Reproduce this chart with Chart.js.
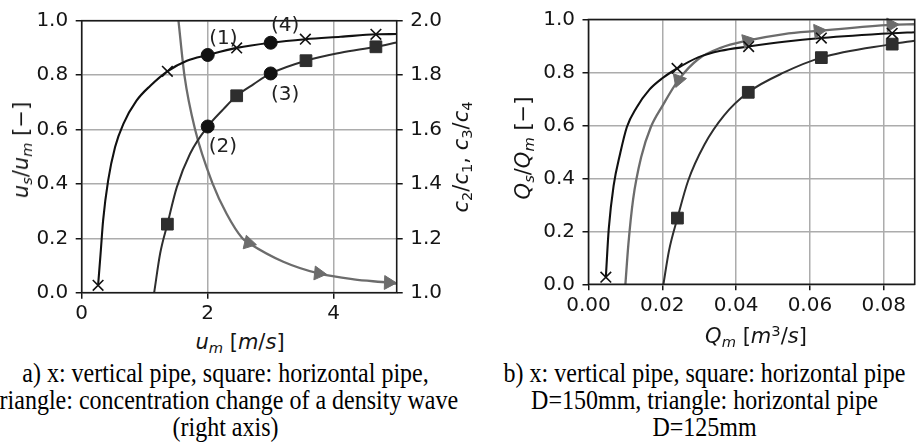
<!DOCTYPE html>
<html><head><meta charset="utf-8">
<script src="https://cdn.jsdelivr.net/npm/chart.js@4.4.0/dist/chart.umd.min.js"></script>
<style>
html,body{margin:0;padding:0;background:#fff;}
body{width:924px;height:442px;overflow:hidden;position:relative;}
canvas{position:absolute;top:0;}
#c1{left:0;}
#c2{left:460px;}
.t{position:absolute;font-family:"DejaVu Sans";font-size:21px;color:#151515;white-space:nowrap;line-height:24px;transform:translate(-50%,-50%);}
.r{transform:translate(-50%,-50%) rotate(-90deg);}
.t i{font-style:italic;}
.t sub{font-size:0.7em;vertical-align:-0.3em;line-height:0;}
.t sup{font-size:0.7em;vertical-align:0.45em;line-height:0;}
.cap{position:absolute;top:360px;font-family:"Liberation Serif";font-size:24px;line-height:24.1px;color:#000;white-space:nowrap;text-align:center;transform-origin:50% 0;transform:translateX(-50%) scaleY(1.12);}
</style>
</head><body>
<canvas id="c1" width="460" height="330"></canvas>
<canvas id="c2" width="464" height="330"></canvas>

<div class="t r" style="left:20.5px;top:150px;"><i>u</i><sub><i>s</i></sub>/<i>u</i><sub><i>m</i></sub> [−]</div>
<div class="t r" style="left:460.5px;top:157px;"><i>c</i><sub>2</sub>/<i>c</i><sub>1</sub>, <i>c</i><sub>3</sub>/<i>c</i><sub>4</sub></div>
<div class="t r" style="left:522.5px;top:148px;"><i>Q</i><sub><i>s</i></sub>/<i>Q</i><sub><i>m</i></sub> [−]</div>
<div class="t" style="left:240px;top:342px;"><i>u</i><sub><i>m</i></sub> [<i>m</i>/<i>s</i>]</div>
<div class="t" style="left:756px;top:336px;"><i>Q</i><sub><i>m</i></sub> [<i>m</i><sup>3</sup>/<i>s</i>]</div>

<div class="cap" style="left:225.5px;">a) x: vertical pipe, square: horizontal pipe,<br>triangle: concentration change of a density wave<br>(right axis)</div>
<div class="cap" style="left:704.5px;">b) x: vertical pipe, square: horizontal pipe<br>D=150mm, triangle: horizontal pipe<br>D=125mm</div>

<script>
// ---------- Chart a) : velocity ratio vs mixture velocity ----------
const aVertMarkX = [0.26, 1.36, 2.46, 3.55, 4.67];
const aVertMarkY = [0.027, 0.814, 0.900, 0.932, 0.950];
const aVertCurveX = [0.26, 0.30, 0.34, 0.42, 0.53, 0.66, 0.87, 1.09, 1.36, 1.67, 2.0, 2.46, 3.0, 3.55, 4.11, 4.67, 5.0];
const aVertCurveY = [0.027, 0.144, 0.266, 0.413, 0.536, 0.620, 0.706, 0.761, 0.814, 0.853, 0.874, 0.900, 0.919, 0.932, 0.941, 0.950, 0.951];

const aHorMarkX = [1.36, 2.46, 3.56, 4.67];
const aHorMarkY = [0.252, 0.724, 0.853, 0.904];
const aHorCurveX = [1.15, 1.245, 1.36, 1.51, 1.72, 2.0, 2.25, 2.46, 2.73, 3.0, 3.56, 4.11, 4.67, 5.0];
const aHorCurveY = [0.0, 0.144, 0.252, 0.388, 0.511, 0.611, 0.675, 0.724, 0.767, 0.806, 0.853, 0.882, 0.904, 0.920];

const aWaveMarkX = [2.65, 3.76, 4.87];
const aWaveMarkY = [1.183, 1.071, 1.037];
const aWaveCurveX = [1.536, 1.63, 1.80, 2.08, 2.30, 2.55, 2.65, 3.2, 3.76, 4.32, 4.87, 5.0];
const aWaveCurveY = [2.0, 1.8, 1.6, 1.4, 1.29, 1.2, 1.183, 1.114, 1.071, 1.049, 1.037, 1.033];

const aStateX = [2.0, 2.0, 3.0, 3.0];
const aStateY = [0.874, 0.611, 0.806, 0.919];
const aNoteText = ['(1)', '(2)', '(3)', '(4)'];
const aNoteX = [2.25, 2.24, 3.23, 3.23];
const aNoteY = [0.935, 0.538, 0.727, 0.981];

// ---------- Chart b) : flow ratio vs mixture flow ----------
const bVertMarkX = [0.0047, 0.0240, 0.0434, 0.0631, 0.0823];
const bVertMarkY = [0.027, 0.815, 0.898, 0.930, 0.948];
const bVertCurveX = [0.0047, 0.0055, 0.0068, 0.0086, 0.0104, 0.0130, 0.0165, 0.0200, 0.0240, 0.0297, 0.0358, 0.0434, 0.053, 0.0631, 0.0823, 0.0884];
const bVertCurveY = [0.027, 0.211, 0.372, 0.495, 0.594, 0.667, 0.735, 0.778, 0.815, 0.857, 0.882, 0.898, 0.916, 0.930, 0.948, 0.952];

const bHorMarkX = [0.0241, 0.0433, 0.0631, 0.0823];
const bHorMarkY = [0.250, 0.725, 0.856, 0.907];
const bHorCurveX = [0.0203, 0.0218, 0.0241, 0.0270, 0.0314, 0.0367, 0.0433, 0.0530, 0.0631, 0.0823, 0.0884];
const bHorCurveY = [0.0, 0.126, 0.250, 0.391, 0.527, 0.637, 0.725, 0.800, 0.856, 0.907, 0.920];

const bSmallMarkX = [0.0244, 0.0430, 0.0623, 0.0820];
const bSmallMarkY = [0.772, 0.920, 0.957, 0.980];
const bSmallCurveX = [0.0100, 0.0108, 0.0121, 0.0143, 0.0169, 0.0200, 0.0244, 0.0297, 0.0358, 0.0430, 0.0530, 0.0623, 0.0820, 0.0884];
const bSmallCurveY = [0.0, 0.150, 0.322, 0.482, 0.594, 0.673, 0.772, 0.850, 0.893, 0.920, 0.945, 0.957, 0.980, 0.982];

// ---------- helpers ----------
const pts = (xs, ys) => xs.map((x, i) => ({x: x, y: ys[i]}));
const TXT = '#151515';
const TICKFONT = {family: 'DejaVu Sans', size: 20};
const C_BLACK = '#111111', C_DARK = '#2e2e2e', C_GRAY = '#6c6c6c';
const GRID = '#acacac';

const frame = {
  id: 'frame',
  afterDatasetsDraw(chart) {
    const a = chart.chartArea, ctx = chart.ctx;
    ctx.save();
    ctx.strokeStyle = '#1a1a1a';
    ctx.lineWidth = 1.6;
    ctx.strokeRect(a.left, a.top, a.right - a.left, a.bottom - a.top);
    ctx.restore();
  }
};

function curve(xs, ys, color, width, axis) {
  return {data: pts(xs, ys), borderColor: color, borderWidth: width, pointRadius: 0,
          cubicInterpolationMode: 'monotone', fill: false, yAxisID: axis || 'y'};
}
function marks(xs, ys, style, r, color, fillColor, bw, rot, axis) {
  return {data: pts(xs, ys), showLine: false, pointStyle: style, pointRadius: r, pointHoverRadius: r,
          pointBorderColor: color, pointBackgroundColor: fillColor, pointBorderWidth: bw,
          pointRotation: rot || 0, clip: false, yAxisID: axis || 'y'};
}
function axisX(min, max, step, dec, h) {
  return {type: 'linear', position: 'bottom', min: min, max: max,
    ticks: {stepSize: step, includeBounds: false, font: TICKFONT, color: TXT, padding: 3, maxRotation: 0,
            callback: v => dec === 0 ? String(Math.round(v)) : v.toFixed(dec)},
    grid: {color: GRID, lineWidth: 1.5, tickColor: TXT, tickLength: 6, tickWidth: 1.5},
    border: {display: false},
    afterFit: s => { s.height = h; }};
}
function axisY(pos, min, max, w, onArea) {
  return {type: 'linear', position: pos, min: min, max: max,
    ticks: {stepSize: 0.2, font: TICKFONT, color: TXT, padding: 7.5, callback: v => v.toFixed(1)},
    grid: {color: GRID, lineWidth: 1.5, tickColor: TXT, tickLength: 6, tickWidth: 1.5, drawOnChartArea: onArea},
    border: {display: false},
    afterFit: s => { s.width = w; }};
}
const common = {
  responsive: false, animation: false, events: [], devicePixelRatio: 1,
  plugins: {legend: {display: false}, tooltip: {enabled: false}}
};

// ---------- draw a) ----------
const notesA = {
  id: 'notesA',
  afterDraw(chart) {
    const ctx = chart.ctx, xs = chart.scales.x, ys = chart.scales.y;
    ctx.save();
    ctx.font = '20px "DejaVu Sans"';
    ctx.fillStyle = '#222';
    ctx.textAlign = 'center';
    ctx.textBaseline = 'middle';
    aNoteText.forEach((t, i) => ctx.fillText(t, xs.getPixelForValue(aNoteX[i]), ys.getPixelForValue(aNoteY[i])));
    ctx.restore();
  }
};

new Chart(document.getElementById('c1'), {
  type: 'line',
  data: {datasets: [
    marks(aStateX, aStateY, 'circle', 6.5, C_BLACK, C_BLACK, 1),
    marks(aVertMarkX, aVertMarkY, 'crossRot', 7.5, C_BLACK, C_BLACK, 1.6),
    marks(aHorMarkX, aHorMarkY, 'rect', 8.3, C_DARK, C_DARK, 1),
    marks(aWaveMarkX, aWaveMarkY, 'triangle', 8, C_GRAY, C_GRAY, 1, [103, 96, 92], 'y2'),
    curve(aVertCurveX, aVertCurveY, C_BLACK, 2.1),
    curve(aHorCurveX, aHorCurveY, C_DARK, 2),
    curve(aWaveCurveX, aWaveCurveY, C_GRAY, 2.3, 'y2')
  ]},
  options: Object.assign({}, common, {
    layout: {padding: {top: 20.7, left: 0, right: 0, bottom: 0}},
    scales: {
      x: axisX(0, 5, 2, 0, 37.3),
      y: axisY('left', 0, 1, 81.7, true),
      y2: axisY('right', 1, 2, 63.3, false)
    }
  }),
  plugins: [frame, notesA]
});

// ---------- draw b) ----------
new Chart(document.getElementById('c2'), {
  type: 'line',
  data: {datasets: [
    marks(bVertMarkX, bVertMarkY, 'crossRot', 7.5, C_BLACK, C_BLACK, 1.6),
    marks(bSmallMarkX, bSmallMarkY, 'triangle', 8, C_GRAY, C_GRAY, 1, [200, 78, 84, 88]),
    marks(bHorMarkX, bHorMarkY, 'rect', 8.3, C_DARK, C_DARK, 1),
    curve(bVertCurveX, bVertCurveY, C_BLACK, 2.1),
    curve(bSmallCurveX, bSmallCurveY, C_GRAY, 2.3),
    curve(bHorCurveX, bHorCurveY, C_DARK, 2)
  ]},
  options: Object.assign({}, common, {
    layout: {padding: {top: 13.3, left: 0, right: 1, bottom: 0}},
    scales: {
      x: axisX(0, 0.0884, 0.02, 2, 45.7),
      y: axisY('left', 0, 1, 128.5, true)
    }
  }),
  plugins: [frame]
});
</script>
</body></html>
